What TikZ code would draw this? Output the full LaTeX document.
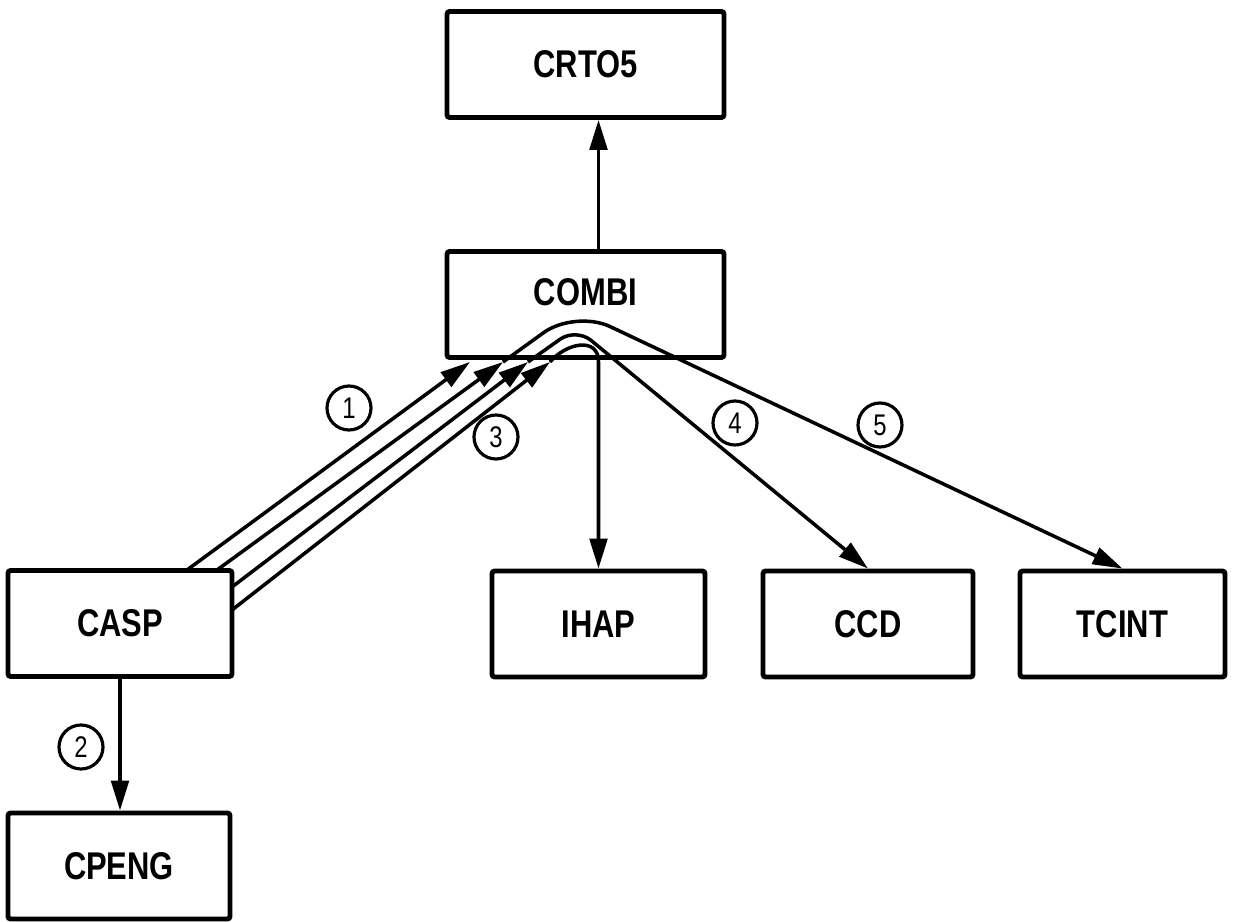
\documentclass[tikz,border=0pt]{standalone}
\usepackage{fontspec}
\setmainfont{Liberation Sans}[FakeStretch=0.8]
\usetikzlibrary{arrows.meta}

\begin{document}
\begin{tikzpicture}[x=0.02cm,y=-0.02cm,>={Triangle[length=17pt,width=10pt]},
          line width=2pt,
          box/.style={draw,line width=2.8pt,rounded corners=1.5pt,minimum width=#1,minimum height=2.12cm,
            font=\fontsize{22}{24}\selectfont\bfseries},
          num/.style={circle,draw,line width=1.8pt,minimum size=0.88cm,inner sep=0pt,
            font=\fontsize{17}{18}\selectfont}]

        \useasboundingbox (0,0) rectangle (1235,922);

        \node[box=5.54cm] (crtos) at (585.5,64.5) {CRTO5};
        \node[box=5.54cm,text depth=0.5cm] (combi) at (585.5,304.5) {COMBI};
        \node[box=4.48cm] (casp) at (120,623.5) {CASP};
        \node[box=4.44cm] (cpeng) at (119,866) {CPENG};
        \node[box=4.26cm] (ihap) at (598.5,624) {IHAP};
        \node[box=4.2cm] (ccd) at (868,624) {CCD};
        \node[box=4.1cm] (tcint) at (1122.5,624) {TCINT};

        \coordinate (s1) at (187,570);
        \coordinate (s2) at (217,570);
        \coordinate (s3) at (232,587);
        \coordinate (s4) at (232,610);
        \coordinate (t1) at (470,362);
        \coordinate (t2) at (503,362);
        \coordinate (t3) at (528,362);
        \coordinate (t4) at (550,362);

        \path[->]
        (s1) edge (t1)
        (s2) edge (t2)
        (s3) edge (t3)
        (s4) edge (t4)
        (combi.north -| ihap.north) edge (crtos.south -| ihap.north)
        (casp.south) edge (casp.south |- cpeng.north);

        \draw[->,rounded corners=22pt] (t2) -- (575,310) -- (tcint.north);
        \draw[->,rounded corners=11pt] (t3) -- (576,328) -- (ccd.north);
        \draw[->] (t4) .. controls (566,343) and (598.5,336) .. (t4 -| ihap.north) -- (ihap.north);

        \node[num] (n1) at (349,408) {1};
        \node[num] (n2) at (81,747) {2};
        \node[num] (n3) at (496,437) {3};
        \node[num] (n4) at (735,423) {4};
        \node[num] (n5) at (880,425) {5};
      \end{tikzpicture}
\end{document}
